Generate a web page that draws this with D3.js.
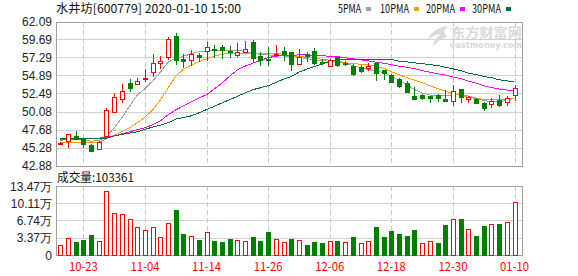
<!DOCTYPE html>
<html>
<head>
<meta charset="utf-8">
<script src="https://cdn.jsdelivr.net/npm/d3@7"></script>
<style>
  body { margin: 0; background: #fff; }
  svg { display: block; }
  .mono { font-family: "Noto Sans CJK SC", "DejaVu Sans Mono", monospace; font-size: 12px; }
  .axis-num { font-family: "Liberation Sans", Arial, sans-serif; font-size: 12px; fill: #222; }
</style>
</head>
<body>
<div id="chart"></div>
<script>
// ---- data ----
const dates = [
  "10-18","10-21","10-22","10-23","10-24","10-25","10-28","10-29","10-30","10-31",
  "11-01","11-04","11-05","11-06","11-07","11-08","11-11","11-12","11-13","11-14",
  "11-15","11-18","11-19","11-20","11-21","11-22","11-25","11-26","11-27","11-28",
  "11-29","12-02","12-03","12-04","12-05","12-06","12-09","12-10","12-11","12-12",
  "12-13","12-16","12-17","12-18","12-19","12-20","12-23","12-24","12-25","12-26",
  "12-27","12-30","12-31","01-02","01-03","01-06","01-07","01-08","01-09","01-10"
];
const open = [
  45.85,46.06,46.85,46.42,45.66,45.04,46.79,49.99,51.76,53.88,
  53.84,54.40,55.29,56.57,57.28,60.10,57.10,57.06,57.59,58.16,
  58.40,58.65,58.16,57.63,57.98,59.31,57.55,57.10,57.72,58.21,
  57.98,56.49,57.76,58.16,56.65,56.22,57.32,56.60,56.22,55.96,
  55.86,56.53,55.56,54.98,54.45,53.88,52.19,52.33,52.19,52.24,
  51.76,51.45,53.08,51.85,51.80,51.23,50.99,51.58,51.36,52.24
];
const high = [
  46.00,47.10,47.52,46.60,45.76,46.10,50.56,52.51,53.74,54.41,
  54.54,55.77,57.76,57.49,59.97,60.50,57.72,58.29,57.85,59.31,
  58.95,58.95,58.87,59.18,59.53,59.61,58.08,58.74,58.95,58.74,
  57.98,58.38,58.08,58.51,57.06,57.10,57.41,56.83,56.40,56.30,
  56.53,56.75,55.64,55.07,54.54,54.10,53.31,52.40,52.20,52.42,
  52.91,53.57,53.08,52.10,51.85,51.36,51.89,52.33,52.10,53.65
];
const low = [
  45.70,45.25,46.30,45.20,44.64,44.90,46.70,49.90,51.23,52.64,
  53.57,54.00,54.63,55.73,56.96,56.30,55.86,56.09,56.75,56.88,
  57.28,57.10,57.28,57.41,57.85,56.75,56.17,56.09,57.50,56.88,
  55.43,56.40,56.75,56.30,56.30,56.20,55.96,56.09,54.76,55.20,
  55.50,54.18,54.23,53.88,53.21,52.55,51.67,51.67,51.23,51.36,
  51.54,50.87,51.23,51.28,51.20,50.21,50.56,50.65,50.79,51.45
];
const close = [
  45.90,47.05,46.42,45.79,44.86,46.02,50.30,52.02,52.78,53.21,
  54.18,54.50,56.53,56.79,59.71,56.88,56.83,57.81,57.32,58.65,
  58.30,58.29,58.08,58.08,58.42,57.19,57.06,57.00,57.81,57.76,
  56.44,57.41,57.55,56.53,56.60,56.96,56.22,56.49,55.11,55.43,
  56.09,55.20,55.11,54.00,53.52,52.68,51.76,51.89,51.89,51.89,
  51.54,52.78,51.98,52.06,51.23,50.56,51.45,50.87,51.89,53.21
];
// volume in 万 shares, plus colour of each bar (1 = red, 0 = green)
const volume = [
  1.95,3.26,2.60,2.93,3.90,2.73,12.50,8.14,8.00,6.97,
  5.53,4.88,5.40,3.45,6.19,8.79,4.10,3.71,2.93,4.49,
  2.80,2.54,3.12,2.93,2.73,3.52,2.80,4.49,3.12,2.54,
  3.12,2.93,1.95,2.54,2.34,2.73,2.73,2.54,3.52,2.34,
  2.73,5.47,3.52,4.69,4.10,3.71,4.88,2.34,2.73,2.34,
  5.86,6.97,7.03,5.01,3.71,5.66,6.05,6.05,6.45,10.34
];
const volUp = [
  1,1,0,0,0,1,1,1,1,1, 1,1,1,1,1,0,0,1,0,1,
  0,0,0,1,1,0,0,0,1,1, 0,1,0,0,0,1,0,1,0,1,
  1,0,0,0,0,0,0,1,1,0, 0,1,0,1,0,0,1,0,1,1
];
const ma5 = [
  46.26,46.33,46.33,46.26,46.13,46.19,46.72,47.91,49.24,50.79,
  52.29,53.15,54.14,55.33,56.66,57.19,57.45,57.78,58.05,58.16,
  58.25,58.25,58.25,58.21,58.12,57.85,57.72,57.63,57.59,57.49,
  57.41,57.32,57.12,56.99,56.88,56.79,56.72,56.53,56.20,55.93,
  55.66,55.53,55.27,54.80,54.27,53.68,53.02,52.55,52.29,52.15,
  52.22,52.29,52.29,52.15,51.89,51.56,51.36,51.36,51.62,51.82
];
const ma10 = [
  45.93,45.93,45.99,45.99,45.93,45.97,46.46,46.92,47.38,47.91,
  48.58,49.33,50.30,51.62,53.21,54.80,55.73,56.26,56.72,57.12,
  57.45,57.72,57.85,57.88,57.88,57.88,57.85,57.85,57.81,57.72,
  57.52,57.41,57.32,57.19,57.06,56.93,56.79,56.60,56.49,56.39,
  56.30,56.13,55.86,55.40,55.00,54.60,54.27,53.94,53.54,53.15,
  52.82,52.49,52.22,51.98,51.82,51.72,51.65,51.62,51.69,51.89
];
const ma20 = [
  46.33,46.33,46.36,46.42,46.46,46.52,46.66,46.81,47.12,47.38,
  47.65,47.91,48.31,48.84,49.64,50.30,50.83,51.36,51.89,52.33,
  53.08,53.88,54.80,55.64,56.13,56.53,56.86,57.28,57.45,57.59,
  57.59,57.63,57.63,57.59,57.52,57.45,57.39,57.25,57.12,56.99,
  56.83,56.66,56.53,56.33,56.13,55.99,55.80,55.53,55.33,55.13,
  54.94,54.70,54.47,54.14,53.88,53.54,53.28,53.08,52.95,52.82
];
const ma30 = [
  46.52,46.52,46.52,46.52,46.52,46.52,46.52,46.81,47.03,47.21,
  47.38,47.69,48.01,48.25,48.58,49.07,49.28,49.50,49.90,50.34,
  50.76,51.23,51.66,52.11,52.55,52.99,53.25,53.54,53.94,54.41,
  54.74,55.33,55.73,56.09,56.39,56.79,56.96,57.02,57.02,57.02,
  57.02,57.02,57.02,57.02,56.79,56.72,56.57,56.46,56.33,56.22,
  55.99,55.77,55.53,55.20,55.00,54.76,54.60,54.31,54.18,54.01
];
const priceTicks = [42.88, 45.28, 47.68, 50.08, 52.49, 54.89, 57.29, 59.69, 62.09];
const volTicks = [0, 3.37, 6.74, 10.11, 13.47];
const volTickLabels = ["0", "3.37万", "6.74万", "10.11万", "13.47万"];
const dateTicks = ["10-23", "11-04", "11-14", "11-26", "12-06", "12-18", "12-30", "01-10"];
const maNames = ["5PMA", "10PMA", "20PMA", "30PMA"];
const maColors = ["#a0a0a0", "#f5a000", "#ff00ff", "#006f3c"];
const titleText = "水井坊[600779] 2020-01-10 15:00";
const volTitle = "成交量:103361";

// ---- layout ----
const W = 578, H = 276;
const plot = { left: 56, right: 522, top: 21.5, bottom: 165.5 };
const vplot = { left: 56, right: 522, top: 186, bottom: 255 };
const RED = "#ff0000", GREEN = "#008000";

const svg = d3.select("#chart").append("svg").attr("width", W).attr("height", H);

const x = d3.scalePoint().domain(dates).range([60.3, 514.5]);
const y = d3.scaleLinear().domain([42.88, 62.09]).range([plot.bottom, plot.top]);
const yv = d3.scaleLinear().domain([0, 13.47]).range([vplot.bottom, vplot.top]);
const px = d => Math.round(x(d)) + 0.5;

// ---- grids ----
function grid(box, ys) {
    const g = svg.append("g").attr("shape-rendering", "crispEdges");
    g.selectAll("line.h").data(ys).join("line")
        .attr("x1", box.left).attr("x2", box.right)
        .attr("y1", d => Math.round(d) + 0.5).attr("y2", d => Math.round(d) + 0.5)
        .attr("stroke", "#d0d0d0");
    g.selectAll("line.v").data(dateTicks).join("line")
        .attr("x1", px).attr("x2", px)
        .attr("y1", box.top).attr("y2", box.bottom)
        .attr("stroke", "#c8c8c8").attr("stroke-dasharray", "5,3");
    g.append("rect")
        .attr("x", box.left + 0.5).attr("y", Math.round(box.top) + 0.5)
        .attr("width", box.right - box.left).attr("height", Math.round(box.bottom) - Math.round(box.top))
        .attr("fill", "none").attr("stroke", "#a0a0a0");
}
grid(plot, priceTicks.map(y));
grid(vplot, volTicks.map(yv));

// ---- watermark ----
const wm = svg.append("g").attr("fill", "#d9d9d9");
wm.append("path")
    .attr("d", "M448,26 C438,27 430,33 428,40 C432,36 437,34 441,34 C436,38 433,42 433,47 C437,41 442,38 447,37 C443,33 444,29 448,26 Z");
wm.append("text").attr("x", 451).attr("y", 37)
    .attr("font-family", "'Noto Sans CJK SC', sans-serif").attr("font-weight", "bold")
    .attr("font-size", 13).attr("textLength", 71).attr("lengthAdjust", "spacingAndGlyphs")
    .text("东方财富网");
wm.append("text").attr("x", 450).attr("y", 48)
    .attr("font-family", "'DejaVu Sans', sans-serif").attr("font-weight", "bold")
    .attr("font-size", 8).attr("textLength", 72).attr("lengthAdjust", "spacingAndGlyphs")
    .text("eastmoney.com");

// ---- moving averages ----
const maSeries = [ma5, ma10, ma20, ma30];
const line = d3.line().x((d, i) => x(dates[i])).y(d => y(d));
svg.append("g").selectAll("path").data(maSeries).join("path")
    .attr("d", line)
    .attr("fill", "none")
    .attr("stroke", (d, i) => maColors[i])
    .attr("stroke-width", 1)
    .attr("shape-rendering", "crispEdges");

// ---- candles ----
const candles = dates.map((d, i) => ({ d, o: open[i], h: high[i], l: low[i], c: close[i] }));
const cg = svg.append("g").attr("shape-rendering", "crispEdges");
const candle = cg.selectAll("g").data(candles).join("g");
candle.append("line")
    .attr("x1", d => px(d.d)).attr("x2", d => px(d.d))
    .attr("y1", d => y(d.h)).attr("y2", d => y(d.l))
    .attr("stroke", d => d.c > d.o ? RED : GREEN);
candle.append("rect")
    .attr("x", d => px(d.d) - 2)
    .attr("width", 4)
    .attr("y", d => Math.round(y(Math.max(d.o, d.c))) + 0.5)
    .attr("height", d => Math.max(1, Math.round(Math.abs(y(d.o) - y(d.c)))))
    .attr("fill", d => d.c > d.o ? "#fff" : GREEN)
    .attr("stroke", d => d.c > d.o ? RED : GREEN);

// ---- volume bars ----
svg.append("g").attr("shape-rendering", "crispEdges")
    .selectAll("rect").data(volume).join("rect")
    .attr("x", (v, i) => px(dates[i]) - 2)
    .attr("width", 4)
    .attr("y", v => Math.round(yv(v)) + 0.5)
    .attr("height", v => Math.round(vplot.bottom) - Math.round(yv(v)))
    .attr("fill", (v, i) => volUp[i] ? "#fff" : GREEN)
    .attr("stroke", (v, i) => volUp[i] ? RED : GREEN);

// ---- axis labels ----
svg.append("g").selectAll("text").data(priceTicks).join("text")
    .attr("class", "axis-num")
    .attr("x", 52).attr("y", d => y(d) + 4.5)
    .attr("text-anchor", "end")
    .text(d => d.toFixed(2));

svg.append("g").selectAll("text").data(volTicks).join("text")
    .attr("class", "axis-num")
    .attr("x", 52).attr("y", d => yv(d) + 4.5)
    .attr("text-anchor", "end")
    .text((d, i) => volTickLabels[i]);

svg.append("g").selectAll("text").data(dateTicks).join("text")
    .attr("class", "mono")
    .attr("x", d => x(d)).attr("y", 271)
    .attr("text-anchor", "middle")
    .attr("fill", RED)
    .attr("textLength", 29).attr("lengthAdjust", "spacingAndGlyphs")
    .text(d => d);

// ---- titles ----
svg.append("text").attr("class", "mono")
    .attr("x", 56).attr("y", 13).attr("fill", "#111")
    .attr("textLength", 185).attr("lengthAdjust", "spacingAndGlyphs")
    .text(titleText);

svg.append("text").attr("class", "mono")
    .attr("x", 57).attr("y", 182).attr("fill", "#111")
    .attr("textLength", 77).attr("lengthAdjust", "spacingAndGlyphs")
    .text(volTitle);

// ---- legend ----
const legendX = [338, 380, 426, 472];
const leg = svg.append("g").selectAll("g").data(maNames).join("g");
leg.append("text").attr("class", "mono")
    .attr("x", (d, i) => legendX[i]).attr("y", 13).attr("fill", "#111")
    .attr("textLength", d => d.length * 6 - 1).attr("lengthAdjust", "spacingAndGlyphs")
    .text(d => d);
leg.append("rect")
    .attr("x", (d, i) => legendX[i] + d.length * 6 + 4).attr("y", 7)
    .attr("width", 5).attr("height", 4)
    .attr("fill", (d, i) => maColors[i]);
</script>
</body>
</html>
